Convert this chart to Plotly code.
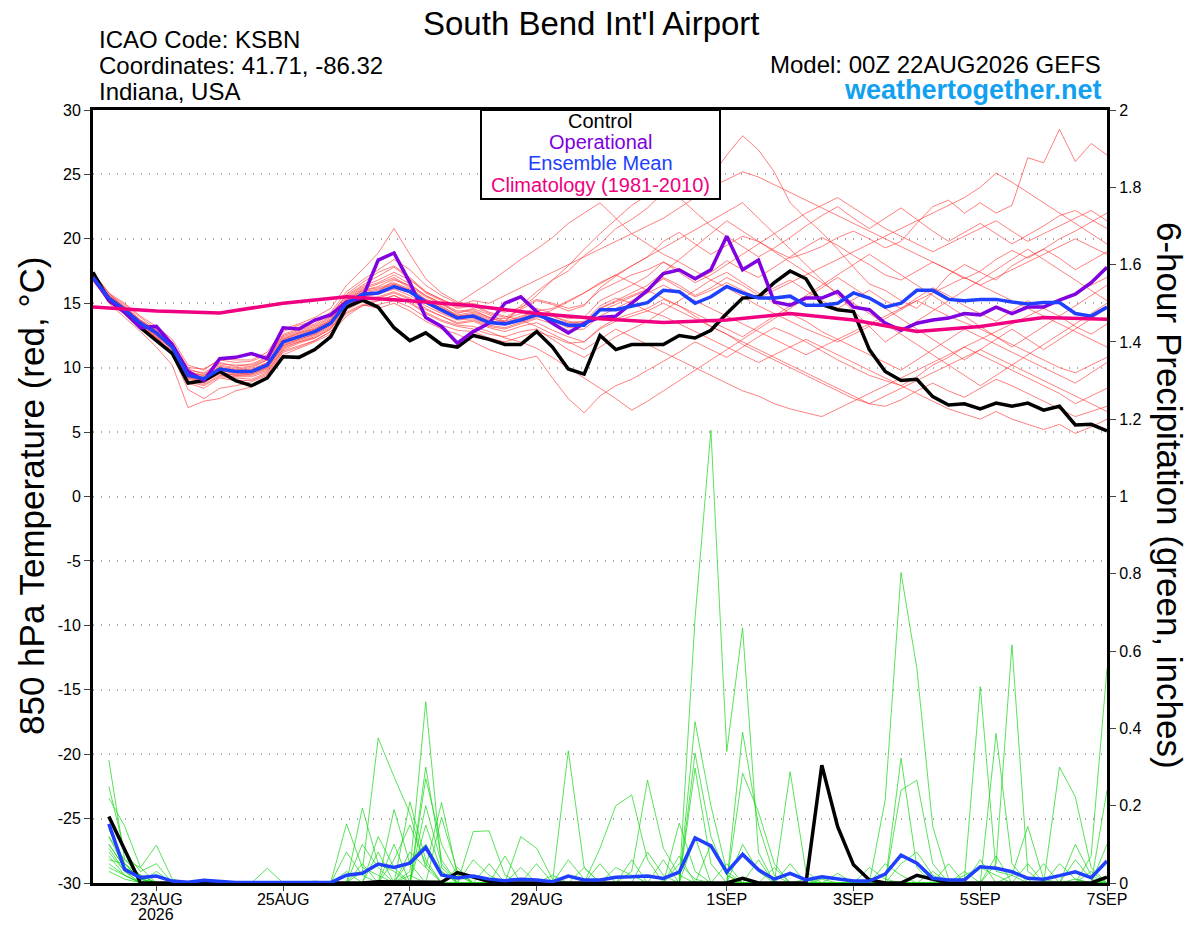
import pandas as pd
import plotly.graph_objects as go

# time axes (00Z 22AUG2026 GEFS run, 6 hourly)
temp_times = pd.date_range('2026-08-22 00:00', periods=65, freq='6h')
prcp_times = pd.date_range('2026-08-22 06:00', periods=64, freq='6h')
clim_times = pd.date_range('2026-08-22 00:00', periods=17, freq='D')

tick_dates = ['2026-08-23', '2026-08-25', '2026-08-27', '2026-08-29',
              '2026-09-01', '2026-09-03', '2026-09-05', '2026-09-07']
tick_labels = ['23AUG', '25AUG', '27AUG', '29AUG', '1SEP', '3SEP', '5SEP', '7SEP']
temp_ticks = [-30, -25, -20, -15, -10, -5, 0, 5, 10, 15, 20, 25, 30]

# 850 hPa temperature (C)
control_t = [17.4, 15.25, 14.3, 13.1, 12.1, 11.1, 8.8, 9.0, 9.7, 9.0,
             8.6, 9.2, 10.85, 10.8, 11.4, 12.4, 14.7, 15.25, 14.7, 13.1,
             12.1, 12.7, 11.8, 11.6, 12.5, 12.2, 11.8, 11.8, 12.8, 11.6,
             9.9, 9.5, 12.5, 11.4, 11.8, 11.8, 11.8, 12.5, 12.3, 12.9,
             14.2, 15.4, 15.5, 16.6, 17.5, 16.9, 14.9, 14.5, 14.35, 11.4,
             9.7, 9.0, 9.1, 7.75, 7.1, 7.2, 6.8, 7.25, 7.0, 7.25,
             6.7, 7.0, 5.55, 5.6, 5.1]
operational_t = [17.0, 15.25, 14.3, 13.1, 13.2, 11.8, 9.7, 9.0, 10.7, 10.8,
                 11.1, 10.7, 13.1, 13.0, 13.7, 14.1, 15.1, 15.4, 18.35, 18.9,
                 16.6, 13.9, 13.2, 11.9, 12.8, 13.45, 15.0, 15.5, 14.35, 13.45,
                 12.7, 13.45, 13.9, 14.0, 15.0, 16.0, 17.3, 17.6, 16.9, 17.6,
                 20.2, 17.6, 18.35, 15.1, 14.85, 15.4, 15.4, 15.9, 14.7, 14.5,
                 13.45, 12.9, 13.45, 13.7, 13.85, 14.2, 14.1, 14.7, 14.2, 14.7,
                 14.7, 15.25, 15.7, 16.6, 17.8]
mean_t = [17.0, 15.4, 14.5, 13.45, 12.7, 11.6, 9.4, 9.15, 9.9, 9.7,
          9.7, 10.2, 12.0, 12.4, 12.8, 13.45, 15.0, 15.7, 15.8, 16.3,
          15.9, 15.1, 14.5, 13.85, 14.0, 13.5, 13.4, 13.7, 14.1, 13.7,
          13.3, 13.3, 14.5, 14.5, 14.8, 15.05, 16.0, 15.9, 15.0, 15.5,
          16.3, 15.8, 15.4, 15.4, 15.55, 14.85, 14.85, 15.0, 15.8, 15.4,
          14.7, 15.0, 16.0, 16.0, 15.3, 15.2, 15.3, 15.3, 15.1, 14.95,
          15.05, 15.05, 14.2, 14.0, 14.7]
clim_t = [14.7, 14.4, 14.25, 15.0, 15.5, 15.2, 14.8, 14.2, 13.8, 13.5,
          13.7, 14.2, 13.7, 12.8, 13.2, 13.9, 13.75]

# ensemble members, temperature
members_t = [
    [17.2, 15.6, 14.8, 13.7, 12.9, 11.9, 9.8, 9.6, 10.4, 10.1, 10.3, 10.8, 12.6, 13.0, 13.4,
     14.2, 15.6, 16.4, 17.1, 17.8, 16.9, 15.8, 15.2, 14.6, 14.8, 14.2, 13.9, 14.5, 15.2, 14.9,
     14.4, 14.8, 16.2, 17.1, 17.9, 18.6, 19.8, 20.5, 19.6, 18.8, 19.5, 20.2, 19.8, 19.1, 18.5,
     18.9, 19.4, 20.1, 20.6, 20.0, 19.3, 19.8, 21.2, 22.5, 23.0, 22.0, 22.8, 22.0, 22.6, 26.3,
     25.9, 28.5, 26.0, 27.4, 26.5],
    [16.8, 15.1, 14.2, 13.2, 12.3, 11.2, 8.9, 8.6, 9.3, 9.2, 9.1, 9.6, 11.5, 12.0, 12.3,
     13.0, 14.6, 15.5, 15.9, 16.8, 16.4, 15.6, 15.0, 14.2, 14.6, 14.1, 13.6, 14.8, 15.9, 16.8,
     17.5, 18.7, 19.6, 20.8, 21.5, 22.4, 23.6, 24.1, 23.2, 24.8, 26.5, 28.0, 26.9, 25.2, 22.8,
     21.6, 20.5, 19.2, 17.8, 16.5, 16.0, 15.2, 14.6, 15.8, 17.2, 18.0, 17.4, 16.8, 17.9, 18.6,
     19.2, 18.5, 17.6, 18.3, 19.0],
    [17.4, 15.8, 14.6, 13.3, 12.4, 11.0, 8.3, 7.6, 8.4, 8.6, 8.9, 9.4, 11.2, 11.6, 12.1,
     12.8, 14.3, 14.9, 14.6, 15.0, 14.4, 13.6, 13.0, 12.6, 12.0, 11.4, 11.0, 10.6, 10.9, 9.2,
     7.6, 6.5, 7.8, 8.6, 9.1, 9.8, 10.5, 11.2, 12.0, 11.4, 10.8, 11.6, 12.4, 13.1, 12.6,
     12.0, 11.3, 10.6, 10.0, 9.4, 9.0, 8.6, 9.3, 10.2, 10.8, 11.6, 11.0, 10.4, 9.8, 9.2,
     8.6, 8.0, 7.2, 7.8, 8.4],
    [17.1, 15.5, 14.6, 13.6, 12.8, 11.7, 9.6, 9.3, 10.1, 9.9, 10.0, 10.6, 12.3, 12.7, 13.1,
     13.8, 15.4, 16.2, 16.6, 17.2, 16.5, 15.6, 15.0, 14.4, 14.5, 13.9, 13.8, 14.2, 14.6, 14.2,
     13.8, 13.9, 15.2, 15.8, 16.4, 17.1, 18.2, 17.6, 16.8, 17.4, 18.3, 17.6, 17.0, 17.8, 18.6,
     19.4, 20.1, 19.5, 18.7, 18.0, 17.2, 16.8, 17.5, 18.2, 17.6, 16.9, 17.5, 18.4, 19.1, 18.5,
     19.2, 20.0, 20.6, 21.3, 22.0],
    [16.9, 15.3, 14.4, 13.4, 12.5, 11.4, 9.2, 9.0, 9.6, 9.4, 9.5, 9.9, 11.7, 12.1, 12.5,
     13.2, 14.7, 15.3, 15.5, 15.9, 15.4, 14.6, 14.0, 13.4, 13.6, 13.1, 12.8, 13.2, 13.5, 12.9,
     12.4, 12.0, 13.1, 13.8, 14.2, 14.6, 15.3, 14.8, 14.0, 13.2, 12.6, 11.8, 11.2, 10.6, 10.0,
     9.4, 8.8, 8.2, 7.6, 7.2, 7.0, 7.5, 8.2, 8.8, 8.2, 7.7, 8.4, 9.1, 8.6, 8.0,
     7.4, 6.8, 6.2, 6.6, 7.0],
    [17.3, 15.7, 14.9, 13.9, 13.0, 12.0, 10.0, 9.9, 10.6, 10.4, 10.5, 11.0, 12.8, 13.3, 13.6,
     14.3, 15.9, 16.8, 17.6, 18.4, 17.6, 16.4, 15.6, 15.0, 15.8, 16.6, 17.5, 18.4, 19.2, 20.1,
     21.2, 22.0, 22.8, 21.6, 20.4, 19.6, 18.8, 18.2, 17.5, 16.8, 16.2, 15.5, 14.8, 14.2, 13.6,
     13.0, 12.5, 12.0, 12.6, 13.2, 13.8, 14.5, 15.2, 14.6, 14.0, 13.5, 13.0, 12.4, 11.8, 11.2,
     10.6, 10.0, 9.6, 10.2, 10.8],
    [16.7, 15.2, 14.3, 13.3, 12.6, 11.5, 9.3, 8.9, 9.8, 9.5, 9.6, 10.1, 11.9, 12.3, 12.9,
     13.6, 15.2, 16.0, 16.3, 16.9, 16.2, 15.3, 14.8, 14.0, 13.9, 13.4, 13.6, 14.6, 15.6, 16.8,
     17.9, 19.2, 20.4, 21.5, 22.6, 23.4, 24.0, 23.2, 22.1, 21.0, 20.2, 19.4, 18.6, 19.3, 20.1,
     21.0, 21.8, 22.5, 21.6, 20.8, 21.6, 22.4, 21.5, 20.6, 19.8, 20.5, 21.2, 20.4, 19.6, 20.3,
     21.0, 21.8, 22.2, 21.5, 20.8],
    [17.0, 15.0, 13.9, 12.8, 11.6, 10.2, 6.9, 7.4, 7.6, 8.2, 8.5, 9.2, 11.0, 11.5, 12.0,
     12.6, 14.0, 14.8, 15.2, 15.6, 15.0, 14.2, 13.6, 13.2, 13.0, 12.6, 12.4, 12.8, 13.0, 12.2,
     11.4, 10.8, 11.6, 12.4, 13.0, 13.6, 14.4, 15.2, 16.0, 16.8, 17.4, 16.6, 15.8, 15.0, 14.2,
     13.6, 12.8, 12.2, 11.6, 11.0, 10.4, 9.8, 10.6, 11.4, 12.2, 13.0, 12.4, 11.8, 11.2, 10.6,
     10.0, 9.4, 8.8, 9.6, 10.4],
    [17.3, 15.8, 15.0, 14.0, 13.2, 12.2, 10.2, 9.8, 10.7, 10.6, 10.6, 11.2, 13.0, 13.4, 13.9,
     14.6, 16.4, 17.6, 18.9, 20.8, 18.8, 16.9, 15.8, 15.1, 14.9, 14.3, 14.0, 13.7, 13.2, 12.6,
     12.0, 11.4, 12.2, 13.0, 12.4, 11.8, 11.2, 10.6, 10.0, 9.4, 8.8, 8.2, 7.8, 7.2, 6.8,
     6.5, 6.2, 6.8, 7.4, 8.0, 8.6, 9.2, 9.8, 10.4, 11.0, 11.6, 12.2, 12.8, 13.4, 14.0,
     14.6, 15.2, 15.8, 16.4, 17.0],
    [16.9, 15.3, 14.5, 13.4, 12.6, 11.6, 9.5, 9.1, 9.8, 9.6, 9.6, 10.0, 11.8, 12.2, 12.6,
     13.3, 14.9, 15.6, 15.8, 16.2, 15.8, 15.0, 14.3, 13.8, 14.1, 13.6, 13.3, 13.6, 14.0, 13.6,
     13.1, 13.2, 14.4, 14.9, 15.5, 16.0, 17.0, 16.4, 15.6, 16.2, 17.0, 16.4, 15.6, 16.2, 16.8,
     16.0, 15.2, 14.6, 15.3, 16.0, 15.2, 14.6, 15.4, 16.2, 15.6, 14.8, 14.2, 13.6, 14.4, 15.2,
     14.6, 14.0, 13.2, 12.6, 13.4],
    [17.1, 15.4, 14.4, 13.5, 12.7, 11.6, 9.4, 9.2, 9.8, 9.8, 9.8, 10.3, 12.1, 12.5, 12.9,
     13.5, 15.0, 15.8, 16.0, 16.5, 16.0, 15.2, 14.6, 14.0, 14.2, 13.7, 13.4, 13.8, 14.3, 14.0,
     13.5, 13.6, 14.8, 15.4, 15.0, 14.4, 14.0, 13.4, 12.8, 12.2, 11.6, 11.0, 10.4, 11.0, 11.6,
     12.2, 11.6, 11.0, 10.4, 9.8, 9.2, 8.6, 8.0, 7.4, 6.8, 6.4, 6.0, 6.6, 6.0, 5.6,
     5.2, 5.6, 4.9, 5.4, 6.0],
    [17.0, 15.5, 14.7, 13.6, 12.8, 11.8, 9.7, 9.4, 10.2, 10.0, 10.1, 10.6, 12.4, 12.8, 13.2,
     13.9, 15.5, 16.3, 16.8, 17.4, 16.8, 15.9, 15.3, 14.7, 15.0, 14.6, 14.3, 14.7, 15.3, 15.0,
     14.6, 14.9, 16.0, 16.6, 17.2, 17.6, 18.2, 17.4, 16.6, 17.2, 18.0, 18.8, 19.6, 20.4, 21.2,
     22.0, 22.6, 23.2, 22.4, 21.6, 20.8, 20.2, 19.6, 19.0, 19.6, 20.2, 20.8, 21.4, 20.6, 19.8,
     20.4, 21.0, 21.6, 22.2, 21.4],
    [16.8, 15.2, 14.3, 13.2, 12.4, 11.3, 9.0, 8.7, 9.4, 9.3, 9.3, 9.7, 11.4, 11.9, 12.3,
     13.0, 14.5, 15.1, 15.2, 15.6, 15.1, 14.3, 13.7, 13.3, 13.2, 12.8, 12.3, 12.0, 11.5, 10.8,
     10.0, 9.2, 8.4, 7.6, 6.7, 7.4, 8.2, 9.0, 9.8, 10.6, 11.4, 12.2, 13.0, 13.8, 14.6,
     15.4, 16.2, 17.0, 16.2, 15.4, 14.6, 13.8, 13.0, 12.2, 11.4, 10.6, 11.4, 12.2, 13.0, 12.2,
     11.4, 12.2, 13.0, 13.8, 14.6],
    [17.2, 15.6, 14.7, 13.7, 12.9, 11.9, 9.9, 9.5, 10.3, 10.2, 10.2, 10.7, 12.5, 12.9, 13.3,
     14.0, 15.7, 16.6, 17.4, 17.9, 17.0, 15.9, 15.3, 14.8, 15.2, 15.0, 15.6, 16.2, 16.8, 17.4,
     18.0, 18.6, 19.2, 19.8, 20.4, 21.0, 21.6, 22.4, 23.2, 24.0, 24.6, 25.2, 24.8, 24.2, 23.6,
     23.0, 22.4, 21.8, 21.2, 20.6, 20.0, 19.4, 18.8, 18.2, 17.6, 17.0, 16.4, 17.0, 17.6, 18.2,
     18.8, 19.4, 20.0, 19.4, 18.8],
    [16.9, 15.3, 14.5, 13.5, 12.6, 11.5, 9.1, 8.8, 9.6, 9.4, 9.4, 9.8, 11.6, 12.0, 12.4,
     13.1, 14.6, 15.3, 15.4, 15.8, 15.3, 14.5, 14.0, 13.5, 13.7, 13.2, 13.0, 13.4, 13.8, 13.4,
     12.9, 13.0, 14.0, 14.6, 15.2, 15.8, 16.4, 15.8, 15.2, 14.6, 14.0, 13.4, 12.8, 12.2, 11.6,
     11.0, 11.6, 12.2, 12.8, 13.4, 14.0, 14.6, 15.2, 15.8, 16.4, 17.0, 16.4, 15.8, 15.2, 14.6,
     14.0, 13.4, 12.8, 12.2, 11.6],
    [17.2, 15.5, 14.5, 13.4, 12.6, 11.6, 9.5, 9.2, 10.0, 9.8, 9.9, 10.4, 12.2, 12.6, 13.0,
     13.7, 15.2, 16.0, 16.2, 16.6, 16.1, 15.3, 14.7, 14.1, 14.3, 13.8, 13.6, 14.0, 14.4, 14.0,
     13.6, 13.4, 14.6, 15.2, 15.8, 16.4, 17.4, 18.4, 19.4, 20.4, 21.4, 20.6, 19.8, 19.0, 18.2,
     17.4, 16.6, 15.8, 15.0, 14.2, 13.4, 12.6, 11.8, 11.0, 10.2, 9.4, 8.6, 9.4, 10.2, 11.0,
     11.8, 12.6, 13.4, 14.2, 15.0],
    [17.0, 15.4, 14.6, 13.6, 12.8, 11.7, 9.6, 9.4, 10.0, 9.8, 9.8, 10.3, 12.1, 12.5, 12.9,
     13.6, 15.1, 15.9, 16.1, 16.5, 16.0, 15.2, 14.6, 14.0, 14.1, 13.6, 13.4, 13.8, 14.2, 13.8,
     13.4, 13.5, 14.6, 15.1, 15.6, 16.1, 16.9, 16.2, 15.5, 16.0, 16.6, 16.0, 15.4, 16.0, 16.6,
     17.2, 17.8, 18.4, 19.0, 19.6, 20.2, 20.8, 21.4, 22.0, 22.6, 23.2, 24.0, 25.1, 24.4, 23.6,
     22.8, 22.0, 21.2, 20.4, 19.6],
    [16.8, 15.1, 14.2, 13.1, 12.3, 11.2, 8.8, 8.4, 9.2, 9.0, 9.0, 9.5, 11.3, 11.7, 12.1,
     12.8, 14.2, 14.8, 14.9, 15.2, 14.7, 13.9, 13.3, 12.9, 12.8, 12.3, 12.0, 12.4, 12.8, 12.4,
     11.9, 12.0, 13.0, 13.6, 14.0, 14.4, 15.0, 14.4, 13.8, 13.2, 12.6, 12.0, 11.4, 10.8, 10.2,
     9.6, 9.0, 8.4, 7.8, 7.2, 7.8, 8.4, 9.0, 9.6, 10.2, 10.8, 11.4, 10.8, 10.2, 9.6,
     9.0, 8.4, 7.8, 7.2, 6.6],
    [17.1, 15.6, 14.6, 13.6, 12.8, 11.7, 9.4, 9.0, 9.8, 9.7, 9.8, 10.4, 12.2, 12.7, 13.0,
     13.7, 15.3, 16.1, 16.5, 17.0, 16.3, 15.5, 14.9, 14.3, 14.4, 13.9, 13.5, 13.9, 14.4, 14.6,
     15.2, 15.8, 16.6, 17.2, 16.6, 16.0, 15.4, 14.8, 14.2, 13.6, 13.0, 12.4, 13.2, 14.0, 14.8,
     15.6, 16.4, 17.2, 18.0, 18.8, 18.0, 17.2, 16.4, 15.6, 14.8, 14.0, 13.2, 12.4, 11.6, 12.4,
     13.2, 14.0, 14.8, 15.6, 16.4],
    [16.9, 15.2, 14.3, 13.3, 12.5, 11.4, 9.2, 8.9, 9.5, 9.5, 9.5, 10.0, 11.7, 12.2, 12.6,
     13.3, 14.8, 15.5, 15.7, 16.1, 15.6, 14.8, 14.2, 13.7, 13.8, 13.3, 13.1, 13.5, 13.9, 14.5,
     15.1, 15.8, 16.5, 17.2, 17.9, 18.6, 19.3, 20.0, 20.7, 21.4, 22.1, 22.8, 21.6, 20.4, 19.2,
     18.0, 16.8, 15.6, 14.4, 13.2, 12.0, 12.8, 13.6, 14.4, 15.2, 16.0, 16.8, 17.6, 18.4, 19.2,
     18.4, 17.6, 16.8, 16.0, 15.2],
]

# 6-hour precipitation (inches)
control_p = [0.172, 0.085, 0, 0, 0, 0, 0, 0,
             0, 0, 0, 0, 0, 0, 0, 0,
             0, 0.003, 0.003, 0.002, 0.003, 0.002, 0.027, 0.016,
             0.004, 0, 0, 0, 0, 0, 0, 0,
             0, 0, 0, 0, 0, 0, 0, 0,
             0.012, 0, 0, 0, 0, 0.305, 0.146, 0.047,
             0.008, 0, 0, 0.02, 0.01, 0, 0, 0,
             0, 0, 0, 0, 0, 0, 0, 0.015]
mean_p = [0.153, 0.035, 0.014, 0.018, 0.005, 0.002, 0.007, 0.003,
          0.001, 0.001, 0.002, 0.001, 0.001, 0.001, 0.001, 0.02,
          0.025, 0.049, 0.04, 0.051, 0.092, 0.021, 0.013, 0.018,
          0.01, 0.006, 0.01, 0.008, 0.003, 0.018, 0.008, 0.008,
          0.015, 0.016, 0.018, 0.012, 0.028, 0.117, 0.096, 0.028,
          0.074, 0.034, 0.01, 0.025, 0.008, 0.016, 0.01, 0.005,
          0.005, 0.023, 0.072, 0.051, 0.012, 0.008, 0.008, 0.042,
          0.038, 0.029, 0.012, 0.01, 0.019, 0.029, 0.014, 0.057]

# members: (6-hour step, amount) pairs, zero elsewhere
members_p = [
    [(1, .318), (2, .06), (3, .02), (16, .153), (17, .04), (18, .02), (21, .2), (22, .05), (30, .06),
     (31, .01), (37, .155), (38, .03), (44, .05), (51, .24), (52, .266), (53, .05), (58, .02), (62, .01)],
    [(1, .25), (2, .08), (3, .03), (4, .05), (17, .194), (18, .05), (19, .03), (23, .03), (33, .04),
     (34, .02), (38, .685), (39, 1.172), (40, .34), (41, .66), (42, .08), (45, .01), (61, .05), (62, .01)],
    [(1, .22), (2, .147), (3, .04), (16, .03), (19, .06), (20, .15), (21, .05), (24, .133), (25, .135),
     (26, .02), (38, .417), (39, .2), (40, .03), (53, .03), (57, .05), (58, .616), (59, .03)],
    [(1, .15), (2, .05), (3, .01), (7, .01), (17, .1), (18, .04), (20, .02), (26, .07), (34, .03),
     (35, .266), (36, .09), (37, .02), (46, .01), (55, .02), (56, .04), (57, .02)],
    [(1, .12), (2, .06), (3, .04), (4, .098), (5, .01), (17, .03), (18, .375), (19, .275), (20, .18),
     (21, .04), (37, .05), (38, .01), (43, .04), (54, .05), (62, .06), (63, .01)],
    [(1, .1), (2, .04), (3, .02), (11, .038), (17, .05), (20, .06), (21, .1), (22, .03), (27, .12),
     (28, .09), (29, .01), (38, .336), (39, .12), (40, .02), (55, .03), (63, .07), (64, .555)],
    [(1, .08), (2, .03), (4, .03), (18, .12), (19, .04), (25, .05), (32, .09), (33, .2), (34, .228),
     (35, .06), (50, .05), (51, .02), (62, .1), (63, .02)],
    [(1, .06), (2, .05), (3, .01), (19, .19), (20, .05), (24, .06), (25, .02), (34, .06), (39, .1),
     (40, .02), (49, .04), (50, .01), (57, .387), (58, .05)],
    [(1, .05), (2, .02), (7, .008), (20, .21), (21, .06), (27, .04), (35, .08), (36, .02), (40, .05),
     (51, .05), (52, .08), (53, .02), (63, .03)],
    [(1, .12), (2, .04), (3, .01), (14, .005), (20, .03), (21, .469), (22, .04), (36, .06), (41, .284),
     (42, .184), (43, .05), (56, .06), (64, .24)],
    [(1, .09), (2, .03), (16, .08), (17, .02), (21, .3), (22, .06), (28, .05), (38, .297), (39, .05),
     (51, .323), (52, .04), (59, .05)],
    [(1, .07), (2, .02), (18, .08), (21, .27), (22, .1), (23, .02), (29, .02), (37, .07), (47, .025),
     (57, .07), (64, .1)],
    [(1, .14), (2, .05), (3, .02), (19, .1), (21, .15), (22, .03), (30, .342), (31, .04), (44, .288),
     (45, .03), (61, .3), (62, .223), (63, .04)],
    [(1, .04), (2, .02), (20, .08), (21, .04), (22, .208), (23, .02), (38, .12), (41, .39), (42, .15),
     (43, .02), (60, .05)],
    [(1, .03), (2, .01), (22, .17), (23, .03), (31, .04), (41, .1), (42, .03), (55, .01), (56, .508),
     (57, .03), (58, .02), (59, .146), (60, .01)],
    [(1, .1), (2, .04), (3, .01), (23, .04), (32, .05), (42, .06), (50, .215), (51, .803), (52, .555),
     (53, .146), (54, .01)],
]

FONT = 'Liberation Sans, Arial, sans-serif'
C_CTRL = '#000000'
C_OPER = '#8000e0'
C_MEAN = '#2040ff'
C_CLIM = '#f00080'

fig = go.Figure()

# thin member lines first
for m in members_t:
    fig.add_trace(go.Scatter(x=temp_times, y=m, mode='lines',
                             line=dict(color='rgba(255,55,55,0.8)', width=0.8), hoverinfo='skip'))

for m in members_p:
    vals = [0.0] * len(prcp_times)
    for step, amt in m:
        vals[step - 1] = amt
    fig.add_trace(go.Scatter(x=prcp_times, y=vals, mode='lines', yaxis='y2',
                             line=dict(color='rgba(25,215,25,0.9)', width=0.8), hoverinfo='skip'))

# precip control / mean
fig.add_trace(go.Scatter(x=prcp_times, y=control_p, mode='lines', yaxis='y2',
                         line=dict(color=C_CTRL, width=3.5)))
fig.add_trace(go.Scatter(x=prcp_times, y=mean_p, mode='lines', yaxis='y2',
                         line=dict(color=C_MEAN, width=3.5)))

# temperature control / op / mean / climatology
fig.add_trace(go.Scatter(x=temp_times, y=control_t, mode='lines', line=dict(color=C_CTRL, width=3.5)))
fig.add_trace(go.Scatter(x=temp_times, y=operational_t, mode='lines', line=dict(color=C_OPER, width=3.5)))
fig.add_trace(go.Scatter(x=temp_times, y=mean_t, mode='lines', line=dict(color=C_MEAN, width=3.5)))
fig.add_trace(go.Scatter(x=clim_times, y=clim_t, mode='lines', line=dict(color=C_CLIM, width=3.5)))


# page pixel -> paper coords (plot box is 93..1107 x 110..883 on the page)
def px(x):
    return (x - 93) / 1014.0


def py(y):
    return (883 - y) / 773.0


annots = [
    dict(text="South Bend Int'l Airport", x=px(591), y=py(23), size=33, color='black', xanchor='center'),
    dict(text='ICAO Code: KSBN', x=px(97), y=py(40), size=24, color='black', xanchor='left'),
    dict(text='Coordinates: 41.71, -86.32', x=px(97), y=py(66), size=24, color='black', xanchor='left'),
    dict(text='Indiana, USA', x=px(97), y=py(92), size=24, color='black', xanchor='left'),
    dict(text='Model: 00Z 22AUG2026 GEFS', x=px(1103), y=py(65), size=24, color='black', xanchor='right'),
    dict(text='<b>weathertogether.net</b>', x=px(1104), y=py(90), size=27, color='#12a0f0', xanchor='right'),
    dict(text='Control', x=px(600), y=py(121), size=20, color=C_CTRL, xanchor='center'),
    dict(text='Operational', x=px(600), y=py(142), size=20, color=C_OPER, xanchor='center'),
    dict(text='Ensemble Mean', x=px(600), y=py(163), size=20, color=C_MEAN, xanchor='center'),
    dict(text='Climatology (1981-2010)', x=px(600), y=py(185), size=20, color=C_CLIM, xanchor='center'),
    dict(text='2026', x=px(156), y=py(914), size=16, color='black', xanchor='center'),
]
for a in annots:
    fig.add_annotation(text=a['text'], x=a['x'], y=a['y'], xref='paper', yref='paper',
                       xanchor=a['xanchor'], yanchor='middle', showarrow=False,
                       font=dict(family=FONT, size=a['size'], color=a['color']))

# axis titles
fig.add_annotation(text='850 hPa Temperature (red, \u00b0C)', x=px(31), y=py(496), xref='paper', yref='paper',
                   xanchor='center', yanchor='middle', textangle=-90, showarrow=False,
                   font=dict(family=FONT, size=35, color='black'))
fig.add_annotation(text='6-hour Precipitation (green, inches)', x=px(1170), y=py(495), xref='paper', yref='paper',
                   xanchor='center', yanchor='middle', textangle=90, showarrow=False,
                   font=dict(family=FONT, size=35, color='black'))

# legend box
fig.add_shape(type='rect', xref='paper', yref='paper', x0=px(481), x1=px(720), y0=py(199), y1=1.0,
              line=dict(color='black', width=2), fillcolor='white', layer='above')

# the page body adds 8px on the left/top, margins are offset to keep the box in place
fig.update_layout(
    width=1200, height=927,
    margin=dict(l=85, r=101, t=102, b=52, autoexpand=False),
    plot_bgcolor='white', paper_bgcolor='white',
    showlegend=False,
    font=dict(family=FONT, size=16, color='black'),
    xaxis=dict(type='date', range=['2026-08-22 00:00', '2026-09-07 00:00'],
               tickvals=tick_dates, ticktext=tick_labels, ticks='outside', ticklen=5,
               ticklabelstandoff=-5,
               showline=True, linewidth=3, linecolor='black', mirror=True, automargin=False,
               showgrid=False, zeroline=False, tickfont=dict(size=16)),
    yaxis=dict(range=[-30, 30], tickvals=temp_ticks, ticktext=[str(t) for t in temp_ticks],
               ticks='outside', ticklen=6, automargin=False,
               showline=True, linewidth=3, linecolor='black',
               showgrid=True, gridcolor='#a8a8a8', griddash='1px,7px', gridwidth=1.5,
               zeroline=False, tickfont=dict(size=16)),
    yaxis2=dict(range=[0, 2], tick0=0, dtick=0.2, overlaying='y', side='right', automargin=False,
                ticks='outside', ticklen=6, showline=True, linewidth=3, linecolor='black',
                showgrid=False, zeroline=False, tickfont=dict(size=16)),
)

fig.write_html('out.html')
